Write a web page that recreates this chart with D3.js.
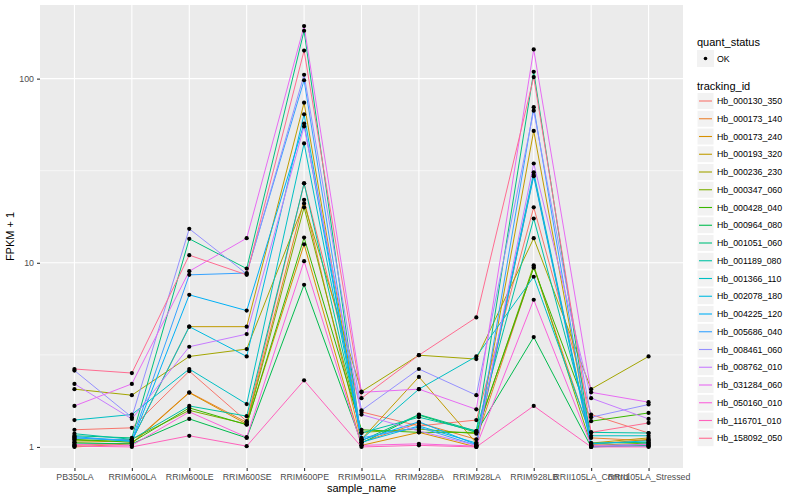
<!DOCTYPE html>
<html>
<head>
<meta charset="utf-8">
<script src="https://cdn.jsdelivr.net/npm/d3@7"></script>
<style>
  body { margin: 0; background: #fff; }
  text { font-family: "Liberation Sans", Arial, Helvetica, sans-serif; }
</style>
</head>
<body>
<div id="chart"></div>
<script>
// samples on the x axis
var samples = ["PB350LA", "RRIM600LA", "RRIM600LE", "RRIM600SE", "RRIM600PE", "RRIM901LA",
    "RRIM928BA", "RRIM928LA", "RRIM928LB", "RRII105LA_Control", "RRII105LA_Stressed"];

var trackingIds = ["Hb_000130_350", "Hb_000173_140", "Hb_000173_240", "Hb_000193_320", "Hb_000236_230",
    "Hb_000347_060", "Hb_000428_040", "Hb_000964_080", "Hb_001051_060", "Hb_001189_080",
    "Hb_001366_110", "Hb_002078_180", "Hb_004225_120", "Hb_005686_040", "Hb_008461_060",
    "Hb_008762_010", "Hb_031284_060", "Hb_050160_010", "Hb_116701_010", "Hb_158092_050"];

// FPKM + 1, one row per tracking id, in sample order
var fpkm = [
    [1.24, 1.27, 2.58, 1.38, 27, 1.55, 1.3, 1.4, 20, 1.5, 1.19],
    [1.02, 1.05, 1.98, 1.36, 22, 1.06, 1.35, 1.1, 9.5, 1.12, 1.08],
    [1.0, 1.04, 1.97, 1.33, 12.6, 1.02, 1.2, 1.0, 30, 1.03, 1.1],
    [1.06, 1.08, 4.5, 4.5, 74, 1.1, 2.4, 1.05, 52, 1.05, 1.12],
    [2.06, 1.91, 3.1, 3.4, 21, 2.0, 3.15, 3.0, 13.6, 2.06, 3.1],
    [1.08, 1.1, 1.58, 1.33, 20, 1.2, 1.25, 1.18, 9.7, 1.02, 1.05],
    [1.1, 1.06, 1.63, 1.32, 13.7, 1.24, 1.2, 1.2, 9.4, 1.38, 1.53],
    [1.05, 1.04, 1.42, 1.12, 7.6, 1.05, 1.49, 1.2, 3.95, 1.0, 1.02],
    [1.15, 1.12, 13.5, 9.3, 182, 1.08, 1.5, 1.22, 109, 1.05, 1.06],
    [1.18, 1.1, 1.67, 1.47, 27, 1.19, 1.45, 1.22, 17.4, 1.2, 1.19],
    [1.4, 1.5, 2.65, 1.71, 44.5, 1.1, 2.06, 3.1, 8.4, 1.15, 1.15],
    [1.12, 1.08, 4.5, 3.1, 64, 1.06, 1.3, 1.05, 31, 1.04, 1.08],
    [1.14, 1.07, 6.7, 5.5, 57, 1.09, 1.37, 1.03, 29.5, 1.0, 1.04],
    [1.12, 1.09, 8.6, 8.8, 98, 1.12, 1.28, 1.02, 70, 1.01, 1.01],
    [2.6, 1.45, 15.3, 8.7, 105, 1.58, 2.65, 1.91, 67, 1.45, 1.7],
    [2.2, 1.42, 3.5, 4.1, 55, 1.5, 1.22, 1.02, 34.6, 1.84, 1.42],
    [1.67, 2.2, 9.0, 13.6, 193, 1.98, 2.06, 1.6, 144, 1.98, 1.75],
    [1.03, 1.02, 1.55, 1.13, 10.2, 1.02, 1.04, 1.01, 6.3, 1.02, 1.03],
    [1.01, 1.0, 1.15, 1.01, 2.3, 1.0, 1.02, 1.0, 1.67, 1.0, 1.0],
    [2.65, 2.52, 11, 8.6, 142, 1.84, 3.15, 5.05, 102, 1.2, 1.35]
];

var yTicks = [1, 10, 100];
var yMinor = [Math.sqrt(10), Math.sqrt(1000)];

// ggplot default hue palette for 20 groups
var palette = ["#F8766D", "#EA8331", "#D89000", "#C09B00", "#A3A500", "#7CAE00", "#39B600",
    "#00BB4E", "#00BF7D", "#00C1A3", "#00BFC4", "#00BAE0", "#00B0F6", "#35A2FF", "#9590FF",
    "#C77CFF", "#E76BF3", "#FA62DB", "#FF62BC", "#FF6C91"];

var svgWidth = 800;
var svgHeight = 500;

var margin = {top: 5, right: 117, bottom: 32, left: 40},
    width = svgWidth - margin.left - margin.right,
    height = svgHeight - margin.top - margin.bottom;

var color = d3.scaleOrdinal().domain(trackingIds).range(palette);

var series = trackingIds.map(function(id, i) {
    return {
        id: id,
        values: samples.map(function(s, j) { return {sample: s, value: fpkm[i][j]}; })
    };
});

var allValues = d3.merge(fpkm);
var lmin = Math.log10(d3.min(allValues)),
    lmax = Math.log10(d3.max(allValues)),
    lpad = (lmax - lmin) * 0.05;

var x = d3.scalePoint()
    .domain(samples)
    .range([0, width])
    .padding(0.6);

var y = d3.scaleLog()
    .domain([Math.pow(10, lmin - lpad), Math.pow(10, lmax + lpad)])
    .range([height, 0]);

var svg = d3.select("#chart").append("svg")
    .attr("width", svgWidth)
    .attr("height", svgHeight)
    .append("g")
    .attr("transform", "translate(" + margin.left + "," + margin.top + ")");

svg.append("rect")
    .attr("width", width)
    .attr("height", height)
    .attr("fill", "#EBEBEB");

// grid
svg.selectAll(".minor")
    .data(yMinor.filter(function(d) { return d >= y.domain()[0] && d <= y.domain()[1]; }))
    .enter().append("line")
    .attr("x1", 0).attr("x2", width)
    .attr("y1", function(d) { return y(d); })
    .attr("y2", function(d) { return y(d); })
    .attr("stroke", "#fff")
    .attr("stroke-width", 0.55);

svg.selectAll(".hgrid")
    .data(yTicks)
    .enter().append("line")
    .attr("x1", 0).attr("x2", width)
    .attr("y1", function(d) { return y(d); })
    .attr("y2", function(d) { return y(d); })
    .attr("stroke", "#fff")
    .attr("stroke-width", 1.1);

svg.selectAll(".vgrid")
    .data(samples)
    .enter().append("line")
    .attr("x1", function(d) { return x(d); })
    .attr("x2", function(d) { return x(d); })
    .attr("y1", 0).attr("y2", height)
    .attr("stroke", "#fff")
    .attr("stroke-width", 1.1);

var line = d3.line()
    .x(function(d) { return x(d.sample); })
    .y(function(d) { return y(d.value); });

svg.selectAll(".series")
    .data(series)
    .enter().append("path")
    .attr("class", "series")
    .attr("d", function(d) { return line(d.values); })
    .attr("fill", "none")
    .attr("stroke", function(d) { return color(d.id); })
    .attr("stroke-width", 1);

svg.selectAll(".pts")
    .data(series)
    .enter().append("g")
    .selectAll("circle")
    .data(function(d) { return d.values; })
    .enter().append("circle")
    .attr("cx", function(d) { return x(d.sample); })
    .attr("cy", function(d) { return y(d.value); })
    .attr("r", 2.1)
    .attr("fill", "#000");

// axes
var xAxis = d3.axisBottom(x).tickSize(3).tickPadding(3);
var yAxis = d3.axisLeft(y).tickValues(yTicks).tickFormat(d3.format("d")).tickSize(3).tickPadding(3);

var gx = svg.append("g")
    .attr("transform", "translate(0," + height + ")")
    .call(xAxis);
var gy = svg.append("g").call(yAxis);

[gx, gy].forEach(function(g) {
    g.select(".domain").remove();
    g.selectAll(".tick line").attr("stroke", "#333").attr("stroke-width", 1.1);
    g.selectAll(".tick text").attr("fill", "#4D4D4D").style("font-size", "8.8px");
});

svg.append("text")
    .attr("x", width / 2)
    .attr("y", height + 24)
    .attr("text-anchor", "middle")
    .style("font-size", "11px")
    .text("sample_name");

svg.append("text")
    .attr("transform", "translate(" + (-26) + "," + (height / 2) + ") rotate(-90)")
    .attr("text-anchor", "middle")
    .style("font-size", "11px")
    .text("FPKM + 1");

// legends
var legend = d3.select("svg").append("g")
    .attr("transform", "translate(697,0)");

legend.append("text")
    .attr("x", 0).attr("y", 46)
    .style("font-size", "11px")
    .text("quant_status");

legend.append("rect")
    .attr("x", 0).attr("y", 50)
    .attr("width", 17).attr("height", 17)
    .attr("fill", "#F2F2F2");
legend.append("circle")
    .attr("cx", 8.5).attr("cy", 58.5)
    .attr("r", 1.8)
    .attr("fill", "#000");
legend.append("text")
    .attr("x", 20).attr("y", 61.5)
    .style("font-size", "8.8px")
    .text("OK");

legend.append("text")
    .attr("x", 0).attr("y", 90)
    .style("font-size", "11px")
    .text("tracking_id");

var keys = legend.selectAll(".key")
    .data(trackingIds)
    .enter().append("g")
    .attr("class", "key")
    .attr("transform", function(d, i) { return "translate(0," + (92.5 + i * 17.75) + ")"; });

keys.append("rect")
    .attr("width", 17).attr("height", 17)
    .attr("fill", "#F2F2F2")
    .attr("stroke", "#fff");
keys.append("line")
    .attr("x1", 2).attr("x2", 15)
    .attr("y1", 8.5).attr("y2", 8.5)
    .attr("stroke", function(d) { return color(d); })
    .attr("stroke-width", 1.1);
keys.append("text")
    .attr("x", 20).attr("y", 11.5)
    .style("font-size", "8.8px")
    .text(function(d) { return d; });
</script>
</body>
</html>
